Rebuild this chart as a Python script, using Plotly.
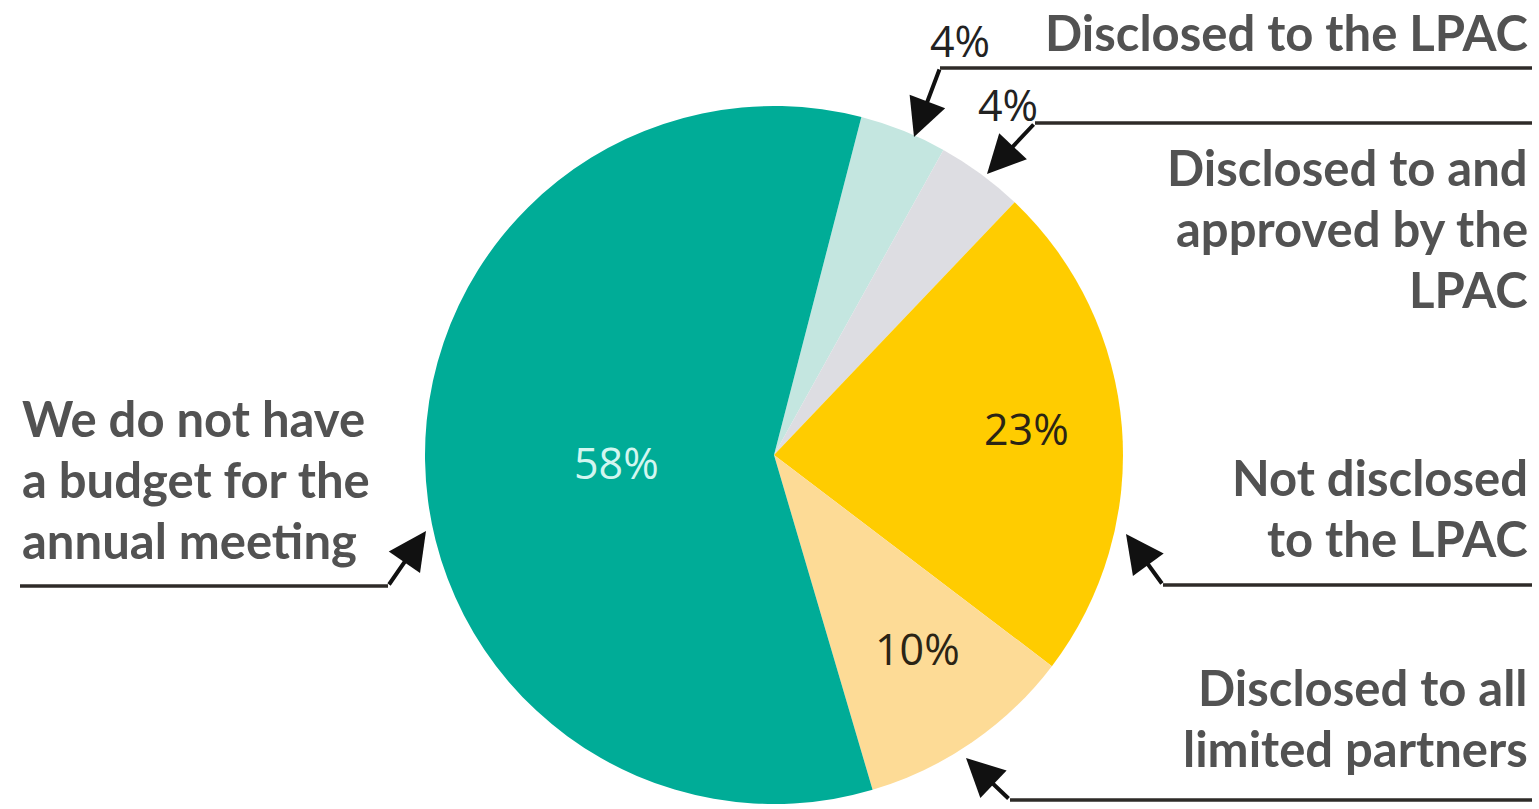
import plotly.graph_objects as go

# Survey: how the annual-meeting budget is handled (share of respondents, %)
categories = [
    "Disclosed to the LPAC",
    "Disclosed to and<br>approved by the<br>LPAC",
    "Not disclosed<br>to the LPAC",
    "Disclosed to all<br>limited partners",
    "We do not have<br>a budget for the<br>annual meeting",
]
values = [4, 4, 23, 10, 58]
colors = ["#C4E6E0", "#DDDDE2", "#FFCC00", "#FDDB96", "#00AC97"]

W, H = 1539, 809


def px(x):
    return x / W


def py(y):
    return 1 - y / H


# pie geometry (pixels)
cx, cy, r = 774, 455, 349

fig = go.Figure(
    go.Pie(
        labels=[c.replace("<br>", " ") for c in categories],
        values=values,
        marker=dict(colors=colors, line=dict(width=0)),
        sort=False,
        direction="clockwise",
        rotation=14.5,
        textinfo="none",
        hoverinfo="skip",
        showlegend=False,
        domain=dict(x=[px(cx - r), px(cx + r)], y=[py(cy + r), py(cy - r)]),
    )
)

label_font = dict(family="Lato", size=49, color="#525252")
pct_font = dict(family="Open Sans", size=43)
line_color = "#2E2B28"

annotations = []
shapes = []


def add_label(text, anchor_x, first_center_y, align):
    for i, line in enumerate(text.split("<br>")):
        annotations.append(
            dict(
                x=px(anchor_x), y=py(first_center_y + i * 61),
                xref="paper", yref="paper",
                text=f"<b>{line}</b>", showarrow=False,
                xanchor=align, yanchor="middle",
                font=label_font,
            )
        )


def add_leader(x0, x1, y, tip):
    # horizontal rule under a label, then an arrow towards the pie
    shapes.append(
        dict(type="line", xref="paper", yref="paper",
             x0=px(x0), x1=px(x1), y0=py(y), y1=py(y),
             line=dict(color=line_color, width=3.5))
    )
    annotations.append(
        dict(x=px(tip[0]), y=py(tip[1]), xref="paper", yref="paper",
             ax=x0 - tip[0], ay=y - tip[1], text="", showarrow=True,
             arrowhead=2, arrowsize=1.9, arrowwidth=4,
             arrowcolor="#111111", standoff=0)
    )


# right-hand labels
add_label(categories[0], 1530, 32, "right")
add_leader(940, 1532, 68, (914, 137))
add_label(categories[1], 1530, 167, "right")
add_leader(1035, 1532, 123, (987, 174))
add_label(categories[2], 1530, 477, "right")
add_leader(1163, 1532, 585, (1126, 534))
add_label(categories[3], 1530, 687, "right")
add_leader(1010, 1532, 800, (966, 758))
# left-hand label
add_label(categories[4], 20, 418, "left")
add_leader(388, 20, 586, (426, 531))

# value labels
pct_pos = [(960, 41, "#222222"), (1008, 104, "#222222"),
           (1026, 428, "#2B2415"), (917, 648, "#2B2415"), (616, 462, "#D2F6F0")]
for v, (x, y, col) in zip(values, pct_pos):
    annotations.append(
        dict(x=px(x), y=py(y), xref="paper", yref="paper",
             text=f"{v}%", showarrow=False, xanchor="center", yanchor="middle",
             font=dict(pct_font, color=col))
    )

fig.update_layout(
    width=W, height=H,
    margin=dict(l=0, r=0, t=0, b=0),
    paper_bgcolor="white", plot_bgcolor="white",
    annotations=annotations, shapes=shapes,
)

fig.write_html("out.html")
